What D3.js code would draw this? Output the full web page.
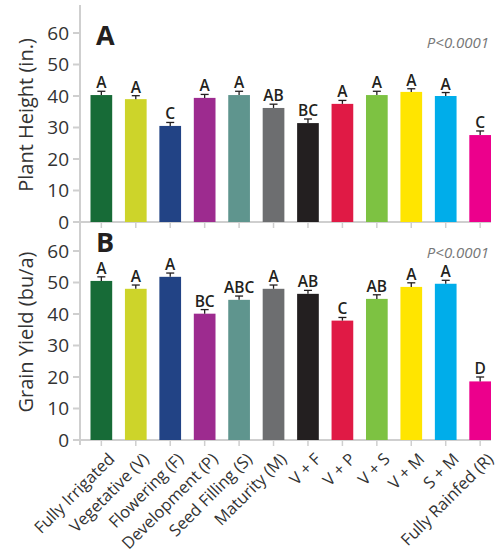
<!DOCTYPE html>
<html>
<head>
<meta charset="utf-8">
<script src="https://cdn.jsdelivr.net/npm/d3@7"></script>
<style>
  body { margin: 0; background: #fff; }
  svg { font-family: "Open Sans", sans-serif; }
</style>
</head>
<body>
<svg id="chart" width="502" height="554"></svg>
<script>
// treatments along the x axis
var categories = ['Fully Irrigated', 'Vegetative (V)', 'Flowering (F)', 'Development (P)',
  'Seed Filling (S)', 'Maturity (M)', 'V + F', 'V + P', 'V + S', 'V + M', 'S + M', 'Fully Rainfed (R)'];
var colors = ['#176b37', '#cdd42a', '#224385', '#9d2b8f', '#5f958e', '#6d6e70',
  '#231f20', '#e01a45', '#7dc242', '#ffe500', '#00adea', '#ec008c'];

// panel A: plant height (in.)
var heightMean = [40.3, 39.0, 30.5, 39.4, 40.3, 36.2, 31.4, 37.5, 40.3, 41.3, 40.0, 27.6];
var heightErr  = [1.2, 1.1, 1.1, 1.1, 1.2, 1.2, 1.3, 1.1, 1.2, 1.0, 1.1, 1.3];
var heightLetters = ['A', 'A', 'C', 'A', 'A', 'AB', 'BC', 'A', 'A', 'A', 'A', 'C'];

// panel B: grain yield (bu/a)
var yieldMean = [50.5, 48.0, 51.8, 40.1, 44.5, 48.0, 46.4, 37.9, 44.8, 48.6, 49.6, 18.6];
var yieldErr  = [1.3, 1.2, 1.2, 1.3, 1.2, 1.2, 1.1, 1.0, 1.3, 1.3, 1.1, 1.4];
var yieldLetters = ['A', 'A', 'A', 'BC', 'ABC', 'A', 'AB', 'C', 'AB', 'A', 'A', 'D'];

var yTicks = [0, 10, 20, 30, 40, 50, 60];

var svg = d3.select('#chart');
var axisColor = '#cfcfcf';
var textColor = '#333';

var x = d3.scaleBand()
  .domain(categories)
  .range([90.5, 491])
  .paddingInner(0.37)
  .paddingOuter(0);

function panel(opts){
  var y = d3.scaleLinear().domain([0, 60]).range([opts.bottom, opts.bottom - 189]);
  var g = svg.append('g');

  // axes lines
  g.append('line')
    .attr('x1', 80).attr('x2', 80)
    .attr('y1', opts.top).attr('y2', opts.bottom + 5)
    .attr('stroke', axisColor).attr('stroke-width', 2);
  g.append('line')
    .attr('x1', 73).attr('x2', 491)
    .attr('y1', opts.bottom).attr('y2', opts.bottom)
    .attr('stroke', axisColor).attr('stroke-width', 2);

  // y ticks
  var yt = g.selectAll('g.ytick').data(yTicks).enter().append('g')
    .attr('transform', function(d){ return 'translate(0,' + y(d) + ')'; });
  yt.append('line').attr('x1', 73).attr('x2', 80)
    .attr('stroke', axisColor).attr('stroke-width', 2);
  yt.append('text')
    .attr('x', 69).attr('dy', '0.35em')
    .attr('text-anchor', 'end')
    .attr('font-size', 19).attr('fill', textColor)
    .text(function(d){ return d; });

  // x ticks
  g.selectAll('line.xtick').data(categories).enter().append('line')
    .attr('x1', function(d){ return x(d) + x.bandwidth() / 2; })
    .attr('x2', function(d){ return x(d) + x.bandwidth() / 2; })
    .attr('y1', opts.bottom).attr('y2', opts.bottom + 6)
    .attr('stroke', axisColor).attr('stroke-width', 1.5);

  // bars
  g.selectAll('rect.bar').data(opts.mean).enter().append('rect')
    .attr('x', function(d, i){ return x(categories[i]); })
    .attr('y', function(d){ return y(d); })
    .attr('width', x.bandwidth())
    .attr('height', function(d){ return opts.bottom - y(d); })
    .attr('fill', function(d, i){ return colors[i]; });

  // error bars (upper only)
  var eb = g.selectAll('g.err').data(opts.mean).enter().append('g')
    .attr('stroke', '#231f20').attr('stroke-width', 1.3);
  eb.append('line')
    .attr('x1', function(d, i){ return x(categories[i]) + x.bandwidth() / 2; })
    .attr('x2', function(d, i){ return x(categories[i]) + x.bandwidth() / 2; })
    .attr('y1', function(d){ return y(d); })
    .attr('y2', function(d, i){ return y(d + opts.err[i]); });
  eb.append('line')
    .attr('x1', function(d, i){ return x(categories[i]) + x.bandwidth() / 2 - 4; })
    .attr('x2', function(d, i){ return x(categories[i]) + x.bandwidth() / 2 + 4; })
    .attr('y1', function(d, i){ return y(d + opts.err[i]); })
    .attr('y2', function(d, i){ return y(d + opts.err[i]); });

  // significance letters
  g.selectAll('text.letter').data(opts.letters).enter().append('text')
    .attr('x', function(d, i){ return x(categories[i]) + x.bandwidth() / 2; })
    .attr('y', function(d, i){ return y(opts.mean[i] + opts.err[i]) - 3; })
    .attr('text-anchor', 'middle')
    .attr('font-size', 15.5).attr('font-weight', 600).attr('fill', '#231f20')
    .text(function(d){ return d; });

  // panel label
  g.append('text')
    .attr('x', 96).attr('y', opts.labelY)
    .attr('font-size', 27).attr('font-weight', 700).attr('fill', '#231f20')
    .text(opts.label);

  // p-value
  g.append('text')
    .attr('x', 489).attr('y', opts.pY)
    .attr('text-anchor', 'end')
    .attr('font-size', 15).attr('font-style', 'italic').attr('fill', '#777')
    .text('P<0.0001');

  // y title
  g.append('text')
    .attr('transform', 'translate(33,' + opts.titleY + ') rotate(-90)')
    .attr('text-anchor', 'middle')
    .attr('font-size', 20).attr('fill', textColor)
    .text(opts.title);
}

panel({top: 5, bottom: 222, mean: heightMean, err: heightErr, letters: heightLetters,
  label: 'A', labelY: 45, pY: 48, title: 'Plant Height (in.)', titleY: 115});
panel({top: 226, bottom: 440, mean: yieldMean, err: yieldErr, letters: yieldLetters,
  label: 'B', labelY: 252, pY: 258, title: 'Grain Yield (bu/a)', titleY: 332});

// category labels, rotated
svg.selectAll('text.cat').data(categories).enter().append('text')
  .attr('transform', function(d){
    return 'translate(' + (x(d) + x.bandwidth() / 2 + 6) + ',452) rotate(-45)';
  })
  .attr('text-anchor', 'end')
  .attr('dy', '0.7em')
  .attr('font-size', 16.5).attr('fill', textColor)
  .text(function(d){ return d; });
</script>
</body>
</html>
